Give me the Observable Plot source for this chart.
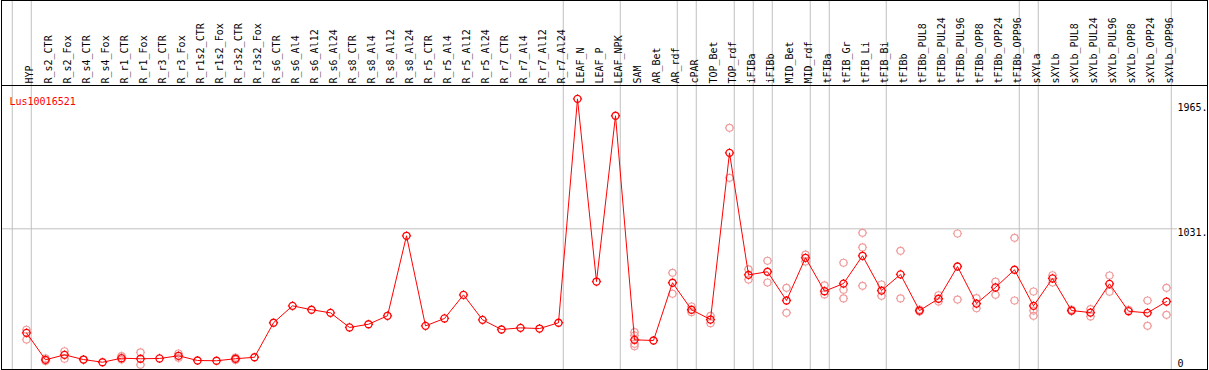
<!DOCTYPE html>
<html><head><meta charset="utf-8">
<script src="https://cdn.jsdelivr.net/npm/d3@7"></script>
<script src="https://cdn.jsdelivr.net/npm/@observablehq/plot@0.6"></script>
<style>html,body{margin:0;padding:0;background:#fff}svg{display:block}</style>
</head><body><div id="chart"></div>
<script>
const gene = "Lus10016521";
const samples = ["HYP","R_s2_CTR","R_s2_Fox","R_s4_CTR","R_s4_Fox","R_r1_CTR","R_r1_Fox","R_r3_CTR","R_r3_Fox","R_r1s2_CTR","R_r1s2_Fox","R_r3s2_CTR","R_r3s2_Fox","R_s6_CTR","R_s6_Al4","R_s6_Al12","R_s6_Al24","R_s8_CTR","R_s8_Al4","R_s8_Al12","R_s8_Al24","R_r5_CTR","R_r5_Al4","R_r5_Al12","R_r5_Al24","R_r7_CTR","R_r7_Al4","R_r7_Al12","R_r7_Al24","LEAF_N","LEAF_P","LEAF_NPK","SAM","AR_Bet","AR_rdf","cPAR","TOP_Bet","TOP_rdf","iFIBa","iFIBb","MID_Bet","MID_rdf","tFIBa","tFIB_Gr","tFIB_Li","tFIB_Bi","tFIBb","tFIBb_PUL8","tFIBb_PUL24","tFIBb_PUL96","tFIBb_OPP8","tFIBb_OPP24","tFIBb_OPP96","sXYLa","sXYLb","sXYLb_PUL8","sXYLb_PUL24","sXYLb_PUL96","sXYLb_OPP8","sXYLb_OPP24","sXYLb_OPP96"];
const means = [256,55,92,57,37,67,63,65,85,50,48,63,74,331,457,428,405,296,320,383,979,308,363,539,353,281,293,288,331,1999,638,1873,204,199,629,428,355,1597,688,711,497,815,566,623,830,571,691,422,510,750,474,594,726,457,661,422,407,621,417,405,489];
const replicates = [[279,206],[46,65],[119,63],[57],[],[82,57],[110,18],[],[102,70],[],[],[72,54],[],[],[],[],[],[],[],[],[],[],[],[],[],[],[],[],[],[],[],[],[261,236,174,156],[],[703,547],[452,410],[383,328],[1783,1411],[728,653],[793,631],[591,405],[839,787],[609,542],[778,577,512],[1001,892,606],[616,532],[867,512],[430,414],[536,489],[996,504],[514,439],[638,539],[964,497],[564,383,422],[685,631],[430,418],[432,378],[683,562],[428],[497,308],[591,390]];
const groupEnds = [-1,0,28,31,34,35,37,38,39,41,42,45,52,53,60];
const yTicks = [1965,1031];
const yZero = [0];

const meanData = samples.map((s,i)=>({i, s, v: means[i]}));
const repData = replicates.flatMap((vals,i)=>vals.map(v=>({i, v})));

const tickCircle = {draw(ctx, size){
  const r = Math.sqrt(size/Math.PI);
  ctx.moveTo(r,0); ctx.arc(0,0,r,0,2*Math.PI);
  const t = 1.1;
  ctx.moveTo(0,-r); ctx.lineTo(0,-r-t);
  ctx.moveTo(0,r); ctx.lineTo(0,r+t);
  ctx.moveTo(-r,0); ctx.lineTo(-r-t,0);
  ctx.moveTo(r,0); ctx.lineTo(r+t,0);
}};

const k = 0.13424, y0 = 366.7;
const chart = Plot.plot({
  width: 1209, height: 370,
  marginTop: 85, marginBottom: 1, marginLeft: 1, marginRight: 2,
  x: {domain:[0,60], range:[26,1166], axis:null},
  y: {domain:[0,2000], range:[y0, y0-2000*k], axis:null},
  style: {fontFamily:"'DejaVu Sans Mono', monospace", fontSize:"10px", background:"white", color:"black"},
  marks: [
    Plot.ruleY([1031], {stroke:"#c0c0c0", insetRight:30}),
    Plot.ruleX(groupEnds, {x: d=>d+0.25, stroke:"#c0c0c0", insetTop:-85}),
    Plot.dot(repData, {x:"i", y:"v", r:3.5, symbol: tickCircle, stroke:"#f09c9c", fill:"none", strokeWidth:1.2}),
    Plot.line(meanData, {x:"i", y:"v", stroke:"#ff0000", strokeWidth:1}),
    Plot.dot(meanData, {x:"i", y:"v", r:3.5, symbol: tickCircle, stroke:"#ff0000", fill:"none", strokeWidth:1.3}),
    Plot.text(samples, {x:(d,i)=>i, text:d=>d, frameAnchor:"top", dy:-2, dx:-1, rotate:-90, textAnchor:"start", fill:"black"}),
    Plot.text([gene], {text:d=>d, frameAnchor:"top-left", dx:8, dy:12, textAnchor:"start", fill:"#ff0000"}),
    Plot.text(yTicks, {y:d=>d, text:d=>d+".", frameAnchor:"right", dx:-30, textAnchor:"start", lineAnchor:"top", dy:0, fill:"black"}),
    Plot.text(yZero, {y:d=>d, text:d=>String(d), frameAnchor:"right", dx:-30, textAnchor:"start", lineAnchor:"bottom", dy:0, fill:"black"}),
    Plot.frame({stroke:"black"}),
    Plot.frame({stroke:"black", insetTop:-85})
  ]
});
document.getElementById("chart").append(chart);
</script>
</body></html>
